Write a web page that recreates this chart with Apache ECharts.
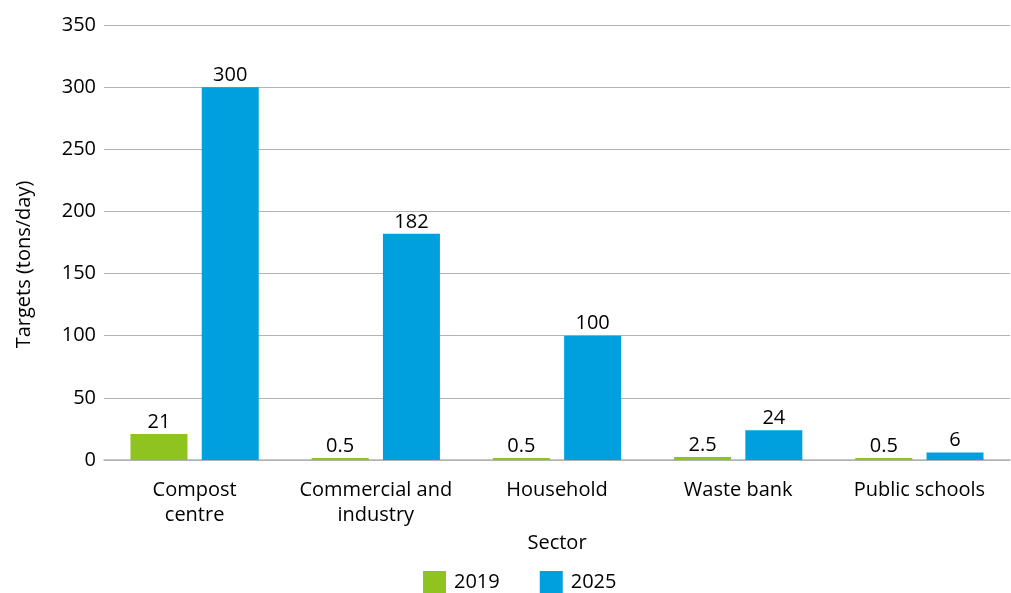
<!DOCTYPE html>
<html><head><meta charset="utf-8">
<script src="https://cdn.jsdelivr.net/npm/echarts@6/dist/echarts.min.js"></script>
<style>html,body{margin:0;padding:0;background:#fff}#c{width:1011px;height:593px}</style>
</head><body><div id="c"></div>
<script>
const categories = ['Compost\ncentre', 'Commercial and\nindustry', 'Household', 'Waste bank', 'Public schools'];
const values2019 = [21, 0.5, 0.5, 2.5, 0.5];
const values2025 = [300, 182, 100, 24, 6];
const seriesNames = ['2019', '2025'];
const FONT = '"Open Sans", sans-serif';
const FS = 20;
const chart = echarts.init(document.getElementById('c'));
const labelStyle = {show: true, position: 'top', distance: 2, color: '#000', fontSize: FS, fontFamily: FONT};
chart.setOption({
  animation: false,
  grid: {left: 104, right: 1, top: 25, bottom: 133, containLabel: false},
  legend: {
    data: seriesNames, left: 418, top: 566, itemWidth: 23, itemHeight: 23, itemGap: 40,
    icon: 'rect', textStyle: {fontSize: FS, fontFamily: FONT, color: '#000', padding: [0,0,0,3]}
  },
  xAxis: {
    type: 'category', data: categories,
    name: 'Sector', nameLocation: 'middle', nameGap: 69,
    nameTextStyle: {fontSize: FS, fontFamily: FONT, color: '#000'},
    axisLine: {lineStyle: {color: '#b3b3b3', width: 1.5}},
    axisTick: {show: false},
    axisLabel: {fontSize: FS, fontFamily: FONT, color: '#000', lineHeight: 25, margin: 18, interval: 0}
  },
  yAxis: {
    type: 'value', min: 0, max: 350, interval: 50,
    name: 'Targets (tons/day)', nameLocation: 'middle', nameGap: 70,
    nameTextStyle: {fontSize: FS, fontFamily: FONT, color: '#000', padding: [0, 44, 0, 0]},
    axisLine: {show: false}, axisTick: {show: false},
    axisLabel: {fontSize: FS, fontFamily: FONT, color: '#000', margin: 8},
    splitLine: {lineStyle: {color: '#b3b3b3', width: 1.2}}
  },
  series: [
    {name: seriesNames[0], type: 'bar', data: values2019, barWidth: 57, barGap: '25%', barMinHeight: 2,
     itemStyle: {color: '#8fc31f'}, label: labelStyle},
    {name: seriesNames[1], type: 'bar', data: values2025, barWidth: 57,
     itemStyle: {color: '#00a0de'}, label: labelStyle}
  ]
});
</script></body></html>
